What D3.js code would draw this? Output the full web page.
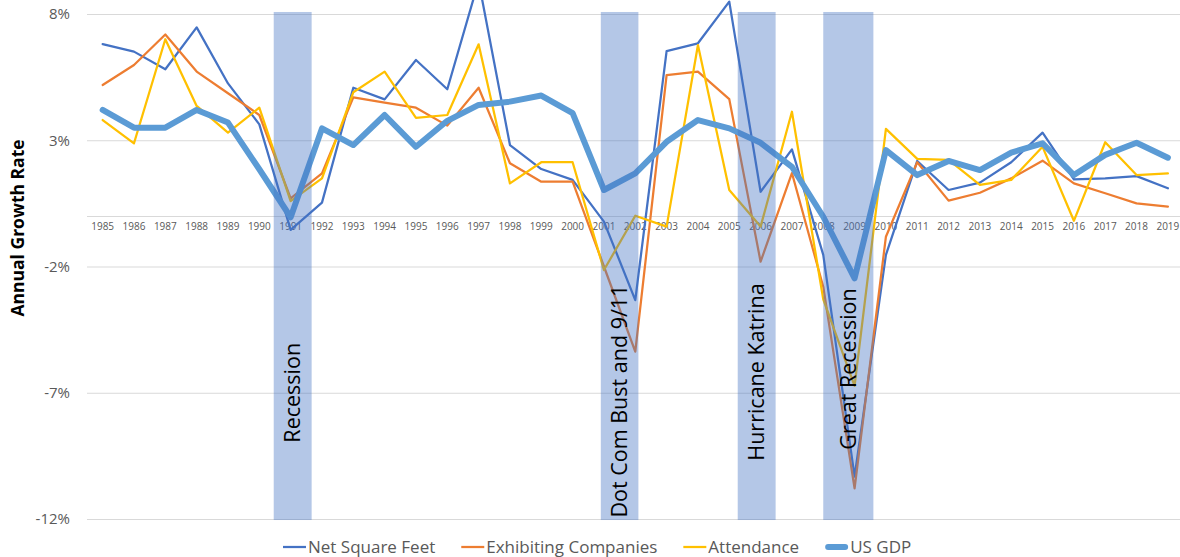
<!DOCTYPE html>
<html>
<head>
<meta charset="utf-8">
<script src="https://cdn.jsdelivr.net/npm/d3@7"></script>
<style>
  body { margin: 0; background: #fff; }
  svg { display: block; font-family: "Open Sans", "Liberation Sans", sans-serif; }
</style>
</head>
<body>
<svg id="chart" width="1180" height="557"></svg>
<script>
// years on the category axis
var years = d3.range(1985, 2020);

// annual growth rate, percent
var netSquareFeet = [6.81, 6.51, 5.81, 7.47, 5.25, 3.63, -0.55, 0.53, 5.08, 4.62,
  6.18, 5.02, 9.3, 2.81, 1.86, 1.43, -0.22, -3.33, 6.53, 6.84,
  8.49, 0.96, 2.64, -1.54, -10.32, -1.54, 2.18, 1.03, 1.32, 2.13,
  3.3, 1.45, 1.49, 1.58, 1.1];
var exhibitingCompanies = [5.19, 5.98, 7.19, 5.72, 4.86, 4.0, 0.7, 1.69, 4.7, 4.49,
  4.29, 3.58, 5.08, 2.09, 1.36, 1.36, -2.0, -5.37, 5.58, 5.72,
  4.63, -1.81, 1.7, -2.8, -10.79, -0.82, 2.13, 0.61, 0.92, 1.49,
  2.19, 1.29, 0.9, 0.5, 0.37];
var attendance = [3.8, 2.88, 7.0, 4.36, 3.3, 4.29, 0.59, 1.49, 4.9, 5.72,
  3.89, 4.0, 6.8, 1.29, 2.13, 2.13, -2.14, 0.01, -0.42, 6.77,
  1.03, -0.42, 4.13, -3.3, -6.73, 3.45, 2.26, 2.22, 1.23, 1.43,
  2.74, -0.19, 2.92, 1.62, 1.69];
var usGdp = [4.2, 3.5, 3.5, 4.2, 3.7, 1.85, -0.05, 3.47, 2.81, 4.0,
  2.74, 3.77, 4.4, 4.53, 4.77, 4.07, 1.03, 1.69, 2.94, 3.8,
  3.47, 2.9, 1.95, -0.03, -2.47, 2.61, 1.62, 2.18, 1.82, 2.51,
  2.88, 1.62, 2.42, 2.9, 2.31];

var seriesNames = ['Net Square Feet', 'Exhibiting Companies', 'Attendance', 'US GDP'];
var seriesColors = ['#4472C4', '#ED7D31', '#FFC000', '#5B9BD5'];
var seriesWidths = [2.25, 2.25, 2.25, 6];

var yTicks = [8, 3, -2, -7, -12];

// shaded event periods (in fractional years) and their label height (percent)
var eventNames = ['Recession', 'Dot Com Bust and 9/11', 'Hurricane Katrina', 'Great Recession'];
var eventStart = [1990.46, 2000.9, 2005.27, 2008.0];
var eventEnd = [1991.67, 2002.1, 2006.48, 2009.6];
var eventLabelAt = [-7.0, -7.33, -6.18, -6.06];

var svg = d3.select('#chart');
var left = 87, step = 31.33;
var x = d3.scaleBand().domain(years).range([left, left + years.length * step]);
var xMid = function(yr) { return x(yr) + x.bandwidth() / 2; };
var xLin = d3.scaleLinear()
  .domain([years[0], years[years.length - 1]])
  .range([xMid(years[0]), xMid(years[years.length - 1])]);
var y = d3.scaleLinear().domain([-12, 8]).range([519, 14]);

// gridlines + zero axis line
svg.append('g')
  .selectAll('line')
  .data(yTicks.concat([0]))
  .enter().append('line')
  .attr('x1', left).attr('x2', left + years.length * step)
  .attr('y1', function(d) { return y(d) + 0.5; })
  .attr('y2', function(d) { return y(d) + 0.5; })
  .attr('stroke', '#D9D9D9').attr('stroke-width', 1);

// y tick labels
svg.append('g')
  .selectAll('text')
  .data(yTicks)
  .enter().append('text')
  .attr('x', 70)
  .attr('y', function(d) { return y(d); })
  .attr('dy', '0.35em')
  .attr('text-anchor', 'end')
  .attr('fill', '#595959')
  .style('font-size', '15px')
  .text(function(d) { return d + '%'; });

// category labels next to the zero line
svg.append('g')
  .selectAll('text')
  .data(years)
  .enter().append('text')
  .attr('x', function(d) { return xMid(d); })
  .attr('y', y(0) + 14)
  .attr('text-anchor', 'middle')
  .attr('fill', '#595959')
  .style('font-size', '10px')
  .text(function(d) { return d; });

// y axis title
svg.append('text')
  .attr('transform', 'translate(18,228) rotate(-90)')
  .attr('text-anchor', 'middle')
  .attr('dy', '0.35em')
  .attr('fill', '#000')
  .style('font-size', '17.5px')
  .style('font-weight', 'bold')
  .text('Annual Growth Rate');

// lines
var allSeries = [netSquareFeet, exhibitingCompanies, attendance, usGdp];
var line = d3.line()
  .x(function(d, i) { return xMid(years[i]); })
  .y(function(d) { return y(d); });

svg.append('g')
  .selectAll('path')
  .data(allSeries)
  .enter().append('path')
  .attr('d', line)
  .attr('fill', 'none')
  .attr('stroke', function(d, i) { return seriesColors[i]; })
  .attr('stroke-width', function(d, i) { return seriesWidths[i]; })
  .attr('stroke-linejoin', 'round')
  .attr('stroke-linecap', 'round');

// event bands, drawn over the lines
var bands = svg.append('g')
  .selectAll('g')
  .data(eventNames)
  .enter().append('g');

bands.append('rect')
  .attr('x', function(d, i) { return xLin(eventStart[i]); })
  .attr('width', function(d, i) { return xLin(eventEnd[i]) - xLin(eventStart[i]); })
  .attr('y', y(8.08))
  .attr('height', y(-12.04) - y(8.08))
  .attr('fill', '#4472C4')
  .attr('fill-opacity', 0.4);

bands.append('text')
  .attr('transform', function(d, i) {
    var cx = (xLin(eventStart[i]) + xLin(eventEnd[i])) / 2;
    return 'translate(' + cx + ',' + y(eventLabelAt[i]) + ') rotate(-90)';
  })
  .attr('text-anchor', 'middle')
  .attr('dy', '0.35em')
  .attr('fill', '#000')
  .style('font-size', '21.5px')
  .text(function(d) { return d; });

// legend
var legend = svg.append('g').attr('transform', 'translate(0,547)');
var items = legend.selectAll('g')
  .data(seriesNames)
  .enter().append('g');

items.append('line')
  .attr('x1', function(d, i) { return i === 3 ? 3 : 0; })
  .attr('x2', function(d, i) { return i === 3 ? 20 : 23; })
  .attr('stroke', function(d, i) { return seriesColors[i]; })
  .attr('stroke-width', function(d, i) { return seriesWidths[i]; })
  .attr('stroke-linecap', function(d, i) { return i === 3 ? 'round' : 'butt'; });

items.append('text')
  .attr('x', 25)
  .attr('dy', '0.35em')
  .attr('fill', '#595959')
  .style('font-size', '17px')
  .text(function(d) { return d; });

var pos = 283;
items.attr('transform', function() {
  var t = 'translate(' + pos + ',0)';
  pos += 25 + this.querySelector('text').getComputedTextLength() + 26;
  return t;
});
</script>
</body>
</html>
